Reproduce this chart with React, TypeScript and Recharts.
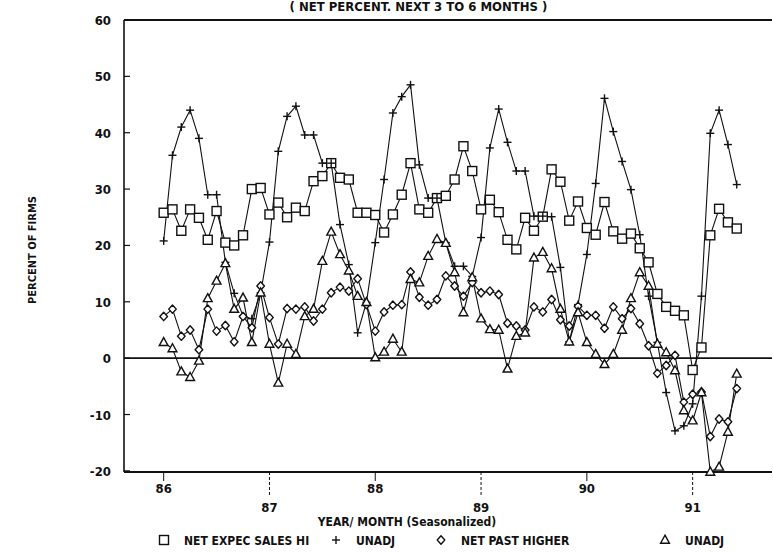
import React from 'react';
import { LineChart, Line, XAxis, YAxis, ReferenceLine } from 'recharts';

// monthly readings, Jan 1986 .. Jun 1991
const expecSales = [
  25.8, 26.4, 22.6, 26.4, 24.9, 21.0, 26.1, 20.5, 20.0, 21.8, 30.0, 30.2,
  25.5, 27.6, 25.0, 26.7, 26.1, 31.4, 32.3, 34.6, 32.0, 31.7, 25.8, 25.8,
  25.4, 22.3, 25.5, 29.0, 34.6, 26.4, 25.8, 28.4, 28.8, 31.7, 37.6, 33.2,
  26.4, 28.1, 25.9, 21.0, 19.3, 24.9, 22.6, 25.1, 33.5, 31.3, 24.4, 27.8,
  23.1, 21.9, 27.7, 22.5, 21.2, 22.1, 19.5, 17.0, 11.4, 9.1, 8.4, 7.6,
  -2.1, 1.9, 21.8, 26.5, 24.1, 23.0,
];
const expecUnadj = [
  20.8, 36.0, 41.0, 44.0, 39.0, 29.0, 29.0, 17.0, 11.5, 7.5, 7.0, 11.6,
  20.6, 36.7, 42.9, 44.7, 39.6, 39.6, 34.6, 34.6, 23.7, 16.6, 4.5, 9.9,
  20.5, 31.7, 43.5, 46.4, 48.5, 34.3, 28.4, 28.4, 20.5, 16.3, 16.3, 14.5,
  21.4, 37.3, 44.2, 38.3, 33.2, 33.2, 25.2, 25.2, 25.1, 16.1, 2.9, 9.5,
  18.4, 31.0, 46.1, 40.2, 34.9, 29.9, 21.9, 11.0, 2.8, -6.1, -12.9, -12.0,
  -8.1, 11.0, 39.9, 44.0, 37.9, 30.8,
];
const pastHigher = [
  7.4, 8.7, 3.9, 5.0, 1.5, 8.7, 4.8, 5.8, 2.9, 7.4, 5.4, 12.8,
  7.2, 2.5, 8.8, 8.7, 9.1, 6.6, 8.7, 11.6, 12.6, 11.9, 14.1, 9.5,
  4.8, 8.2, 9.4, 9.5, 15.3, 10.8, 9.4, 10.4, 14.6, 12.8, 11.0, 13.4,
  11.6, 11.9, 11.3, 6.2, 5.7, 5.0, 9.1, 8.2, 10.4, 6.8, 5.7, 9.2,
  7.6, 7.6, 5.3, 9.1, 7.0, 8.8, 6.1, 2.2, -2.7, -1.3, 0.5, -7.8,
  -6.4, -6.0, -13.9, -10.8, -11.3, -5.4,
];
const pastUnadj = [
  2.8, 1.7, -2.4, -3.4, -0.5, 10.6, 13.7, 16.8, 8.7, 10.7, 2.8, 11.6,
  2.5, -4.4, 2.5, 0.7, 7.4, 8.7, 17.2, 22.4, 18.4, 15.5, 11.0, 9.9,
  0.1, 1.1, 3.4, 1.1, 14.0, 13.4, 18.1, 21.1, 20.4, 15.2, 8.1, 14.3,
  7.0, 5.1, 5.0, -1.9, 3.9, 4.5, 17.8, 18.8, 15.9, 8.7, 2.9, 8.1,
  2.8, 0.7, -1.1, 0.7, 5.0, 10.6, 15.2, 12.8, 2.5, 1.0, -2.2, -9.3,
  -11.1, -6.1, -20.2, -19.3, -13.1, -2.8,
];

const yearTicks = [0, 12, 24, 36, 48, 60];
const yearLabels = ['86', '87', '88', '89', '90', '91'];
const pctTicks = [-20, -10, 0, 10, 20, 30, 40, 50, 60];

const data = expecSales.map((v, i) => ({
  m: i,
  exp: v,
  expU: expecUnadj[i],
  past: pastHigher[i],
  pastU: pastUnadj[i],
}));

const FONT = '"Liberation Sans Narrow", "DejaVu Sans Condensed", "Liberation Sans", sans-serif';
const INK = '#111';

const SquareDot = (p: any) => {
  if (p.cx == null || p.cy == null) return <g key={p.key} />;
  return <rect key={p.key} x={p.cx - 4.5} y={p.cy - 4.5} width={9} height={9} fill="#fff" stroke={INK} strokeWidth={1.4} />;
};
const PlusDot = (p: any) => {
  if (p.cx == null || p.cy == null) return <g key={p.key} />;
  return (
    <g key={p.key}>
      <line x1={p.cx - 4} y1={p.cy} x2={p.cx + 4} y2={p.cy} stroke={INK} strokeWidth={1.4} />
      <line x1={p.cx} y1={p.cy - 4} x2={p.cx} y2={p.cy + 4} stroke={INK} strokeWidth={1.4} />
    </g>
  );
};
const DiamondDot = (p: any) => {
  if (p.cx == null || p.cy == null) return <g key={p.key} />;
  const { cx, cy } = p;
  return (
    <polygon key={p.key} points={`${cx},${cy - 4.2} ${cx + 3.8},${cy} ${cx},${cy + 4.2} ${cx - 3.8},${cy}`}
      fill="#fff" stroke={INK} strokeWidth={1.4} strokeLinejoin="round" />
  );
};
const TriangleDot = (p: any) => {
  if (p.cx == null || p.cy == null) return <g key={p.key} />;
  const { cx, cy } = p;
  return (
    <polygon key={p.key} points={`${cx},${cy - 4.8} ${cx + 4.4},${cy + 3.2} ${cx - 4.4},${cy + 3.2}`}
      fill="#fff" stroke={INK} strokeWidth={1.4} />
  );
};

const XTick = (props: any) => {
  const { x, y, payload } = props;
  const idx = yearTicks.indexOf(payload.value);
  const low = idx % 2 === 1;
  return (
    <g>
      <line x1={x} y1={y} x2={x} y2={y + (low ? 24 : 9)} stroke={INK} strokeWidth={1} strokeDasharray={low ? '3 2' : undefined} />
      <text x={x} y={y + (low ? 40 : 21)} textAnchor="middle" fontFamily={FONT} fontWeight="bold" fontSize={13} fill={INK}>
        {yearLabels[idx]}
      </text>
    </g>
  );
};

const YTick = (props: any) => {
  const { x, y, payload } = props;
  return (
    <g>
      <line x1={x} y1={y} x2={x + 6} y2={y} stroke={INK} strokeWidth={1.2} />
      <text x={x - 13} y={y + 5} textAnchor="end" fontFamily={FONT} fontWeight="bold" fontSize={13} fill={INK}>
        {payload.value}
      </text>
    </g>
  );
};

const legendItems = [
  { sym: 'square', label: 'NET EXPEC SALES HI', x: 160 },
  { sym: 'plus', label: 'UNADJ', x: 332 },
  { sym: 'diamond', label: 'NET PAST HIGHER', x: 437 },
  { sym: 'triangle', label: 'UNADJ', x: 661 },
];

function LegendSymbol({ sym, x, y }: { sym: string; x: number; y: number }) {
  const p = { cx: x, cy: y, key: sym };
  if (sym === 'square') return SquareDot(p);
  if (sym === 'plus') return PlusDot(p);
  if (sym === 'diamond') return DiamondDot(p);
  return TriangleDot(p);
}

export default function App() {
  const textStyle: React.CSSProperties = {
    position: 'absolute',
    fontFamily: FONT,
    fontWeight: 'bold',
    color: INK,
    whiteSpace: 'nowrap',
    lineHeight: 1,
  };
  return (
    <div style={{ position: 'absolute', left: 0, top: 0, width: 773, height: 553, background: '#fff', overflow: 'hidden' }}>
      <LineChart width={773} height={553} data={data} margin={{ top: 20, right: 1, left: 0, bottom: 21 }}>
        <XAxis
          dataKey="m"
          type="number"
          domain={[-4.5, 69]}
          ticks={yearTicks}
          allowDataOverflow
          height={60}
          tickSize={0}
          tickMargin={0}
          tickLine={false}
          tick={<XTick />}
          axisLine={{ stroke: INK, strokeWidth: 2 }}
        />
        <YAxis
          type="number"
          domain={[-20, 60]}
          ticks={pctTicks}
          width={124}
          tickSize={0}
          tickMargin={0}
          tickLine={false}
          tick={<YTick />}
          axisLine={{ stroke: INK, strokeWidth: 1.6 }}
        />
        <ReferenceLine y={60} stroke={INK} strokeWidth={1.8} />
        <ReferenceLine y={0} stroke={INK} strokeWidth={1.6} />
        <Line dataKey="exp" stroke={INK} strokeWidth={1.1} dot={SquareDot} isAnimationActive={false} />
        <Line dataKey="expU" stroke={INK} strokeWidth={1.1} dot={PlusDot} isAnimationActive={false} />
        <Line dataKey="past" stroke={INK} strokeWidth={1.1} dot={DiamondDot} isAnimationActive={false} />
        <Line dataKey="pastU" stroke={INK} strokeWidth={1.1} dot={TriangleDot} isAnimationActive={false} />
      </LineChart>

      <div style={{ ...textStyle, left: 287, top: 0, width: 263, textAlign: 'center', fontSize: 13 }}>
        ( NET PERCENT. NEXT 3 TO 6 MONTHS )
      </div>
      <div
        style={{
          ...textStyle,
          left: 32,
          top: 250,
          fontSize: 11,
          transform: 'translate(-50%, -50%) rotate(-90deg)',
        }}
      >
        PERCENT OF FIRMS
      </div>
      <div style={{ ...textStyle, left: 407, top: 516, transform: 'translateX(-50%)', fontSize: 12 }}>
        YEAR/ MONTH (Seasonalized)
      </div>
      <svg style={{ position: 'absolute', left: 0, top: 528 }} width={773} height={25}>
        {legendItems.map((it) => (
          <g key={it.x}>
            <LegendSymbol sym={it.sym} x={it.x + 4} y={12} />
            <text x={it.x + 24} y={17} fontFamily={FONT} fontWeight="bold" fontSize={12} fill={INK}>
              {it.label}
            </text>
          </g>
        ))}
      </svg>
    </div>
  );
}
